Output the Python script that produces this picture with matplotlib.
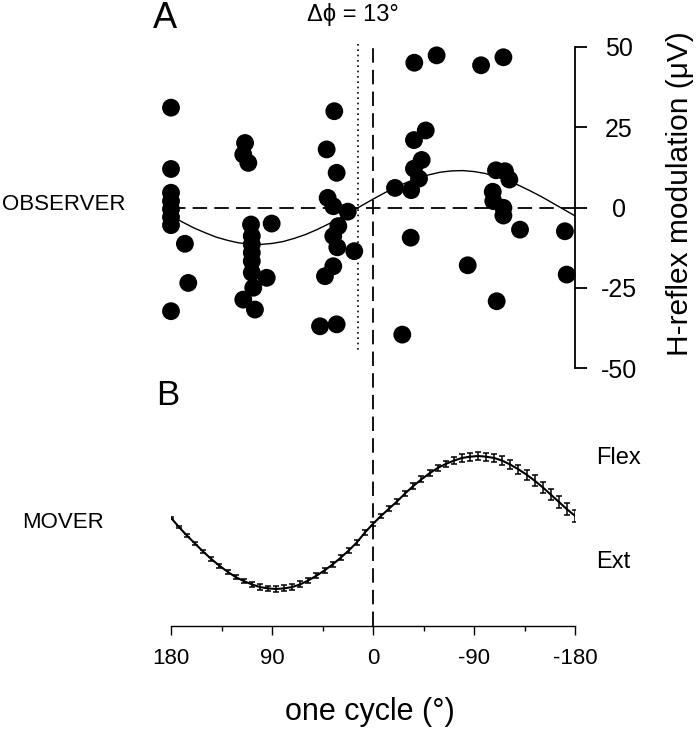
import numpy as np
import matplotlib
matplotlib.use('Agg')
import matplotlib.pyplot as plt
from matplotlib.lines import Line2D
from matplotlib.transforms import blended_transform_factory

plt.rcParams['font.family'] = ['Liberation Sans', 'DejaVu Sans']
plt.rcParams['axes.unicode_minus'] = False

# observer H-reflex modulation (phase in deg, value in uV)
obs_phase = [180, 180, 180, 180, 180, 180, 180, 180, 167.6, 164.6,
             114, 115.6, 111.1, 90.3, 108.7, 108, 108, 108, 108, 108, 94.7, 106.7, 115.6, 105.2,
             34.5, 41.3, 32.4, 40.4, 35.4, 22.5, 30.9, 35.4, 31.8, 16.7, 35.4, 42.8, 47.2, 32.4,
             -19.6, -36.8, -56.7, -96.3, -116.2, -47, -36.5, -43.4, -36.5, -41, -34, -33.6, -26.1,
             -84.4, -109.6, -117.6, -121.5, -106.7, -107.2, -116.2, -116.2, -131, -110.2, -171, -172.6]
obs_value = [31.1, 12.0, 4.6, 2.0, -0.5, -3.0, -5.5, -32.3, -11.3, -23.5,
             20.1, 16.5, 13.9, -5.0, -5.3, -8.9, -11.5, -14.1, -16.7, -20.3, -21.9, -25.0, -28.7, -31.8,
             30.0, 18.1, 10.8, 3.0, 0.4, -1.3, -5.8, -8.9, -12.4, -13.6, -18.3, -21.4, -37.0, -36.4,
             6.1, 45.1, 47.4, 44.3, 46.8, 24.0, 21.0, 14.8, 12.1, 9.0, 5.4, -9.4, -39.6,
             -18.0, 11.6, 11.3, 8.7, 4.9, 2.0, -0.1, -2.5, -6.9, -29.2, -7.4, -20.9]

# sine fit through observer data (every 10 deg)
fit_phase = np.arange(180, -181, -10)
fit_value = [-2.6, -4.5, -6.3, -7.8, -9.2, -10.2, -11.0, -11.4, -11.5, -11.2, -10.6, -9.6,
             -8.4, -6.9, -5.2, -3.4, -1.4, 0.6, 2.6, 4.5, 6.3, 7.8, 9.2, 10.2, 11.0, 11.4,
             11.5, 11.2, 10.6, 9.6, 8.4, 6.9, 5.2, 3.4, 1.4, -0.6, -2.6]
phase_shift = 13

# mover position (normalised), 51 samples over one cycle
mover_phase = np.linspace(180, -180, 51)
mover_value = [0.07, -0.07, -0.20, -0.32, -0.44, -0.55, -0.65, -0.74, -0.82, -0.88, -0.93, -0.97, -0.99,
               -1.00, -0.99, -0.97, -0.93, -0.87, -0.80, -0.72, -0.63, -0.53, -0.42, -0.30, -0.15, -0.02,
               0.10, 0.21, 0.32, 0.44, 0.55, 0.65, 0.74, 0.82, 0.88, 0.93, 0.97, 0.99, 1.00, 0.99,
               0.97, 0.93, 0.87, 0.80, 0.72, 0.63, 0.53, 0.42, 0.31, 0.20, 0.10]
mover_err = [0.01, 0.015, 0.02, 0.02, 0.025, 0.025, 0.03, 0.03, 0.03, 0.035, 0.035, 0.04, 0.04,
             0.045, 0.045, 0.045, 0.045, 0.04, 0.04, 0.04, 0.035, 0.035, 0.035, 0.035, 0.035, 0.035,
             0.035, 0.035, 0.04, 0.04, 0.04, 0.045, 0.045, 0.05, 0.05, 0.055, 0.055, 0.06, 0.06,
             0.06, 0.065, 0.065, 0.07, 0.07, 0.075, 0.08, 0.08, 0.085, 0.085, 0.09, 0.09]

W, H = 700, 733
fig = plt.figure(figsize=(W / 100, H / 100), dpi=100)

def fx(px):
    return px / W

def fy(py):
    return 1 - py / H

# ---- panel A ----
ax1 = fig.add_axes([fx(171), fy(368), fx(575) - fx(171), fy(47) - fy(368)])
ax1.set_xlim(180, -180)
ax1.set_ylim(-50, 50)
ax1.scatter(obs_phase, obs_value, s=165, color='black', edgecolors='none', clip_on=False, zorder=3)
ax1.plot(fit_phase, fit_value, color='black', lw=1.0)
ax1.axhline(0, color='black', lw=1.3, dashes=(8, 4))
ax1.plot([phase_shift, phase_shift], [50.8, -45.2], color='black', lw=1.2, dashes=(1, 2.2), clip_on=False)

for s in ['top', 'left', 'bottom']:
    ax1.spines[s].set_visible(False)
ax1.spines['right'].set_linewidth(1.3)
ax1.set_xticks([])
ax1.yaxis.tick_right()
ax1.set_yticks([-50, -25, 0, 25, 50])
ax1.tick_params(axis='y', direction='out', length=8.6, width=1.3, pad=23, labelsize=18)
for lab in ax1.get_yticklabels():
    lab.set_horizontalalignment('center')

# ---- panel B ----
ax2 = fig.add_axes([fx(171), fy(626), fx(575) - fx(171), fy(375) - fy(626)])
ax2.set_xlim(180, -180)
ax2.set_ylim(-1.556, 2.218)
ax2.errorbar(mover_phase, mover_value, yerr=mover_err, color='black', lw=1.5,
             elinewidth=1.1, capsize=2.5, capthick=1.1)
for s in ['top', 'left', 'right']:
    ax2.spines[s].set_visible(False)
ax2.spines['bottom'].set_linewidth(1.0)
ax2.set_yticks([])
ax2.set_xticks([180, 90, 0, -90, -180])
ax2.set_xticklabels(['180', '90', '0', '-90', '-180'])
ax2.set_xticks([135, 45, -45, -135], minor=True)
ax2.tick_params(axis='x', which='major', direction='out', length=6.5, width=1.0, pad=9, labelsize=16)
ax2.tick_params(axis='x', which='minor', direction='out', length=3.6, width=1.0)

# vertical dashed line at 0 through both panels
tr = blended_transform_factory(ax2.transData, fig.transFigure)
fig.add_artist(Line2D([0, 0], [fy(626), fy(43)], transform=tr, color='black', lw=1.3, dashes=(8, 4)))

# ---- texts ----
fig.text(fx(153), fy(18), 'A', fontsize=26, ha='left', va='center')
fig.text(fx(156), fy(395), 'B', fontsize=25, ha='left', va='center')
fig.text(fx(353), fy(15), 'Δϕ = 13°', fontsize=17, ha='center', va='center')
fig.text(fx(2), fy(205), 'OBSERVER', fontsize=16, ha='left', va='center')
fig.text(fx(22), fy(523), 'MOVER', fontsize=16, ha='left', va='center')
fig.text(fx(596), fy(458), 'Flex', fontsize=17, ha='left', va='center')
fig.text(fx(596), fy(562), 'Ext', fontsize=17, ha='left', va='center')
fig.text(fx(680), fy(194), 'H-reflex modulation (μV)', fontsize=21.5, rotation=90, ha='center', va='center')
fig.text(fx(370), fy(712), 'one cycle (°)', fontsize=22, ha='center', va='center')

fig.savefig('out.png', dpi=100)
